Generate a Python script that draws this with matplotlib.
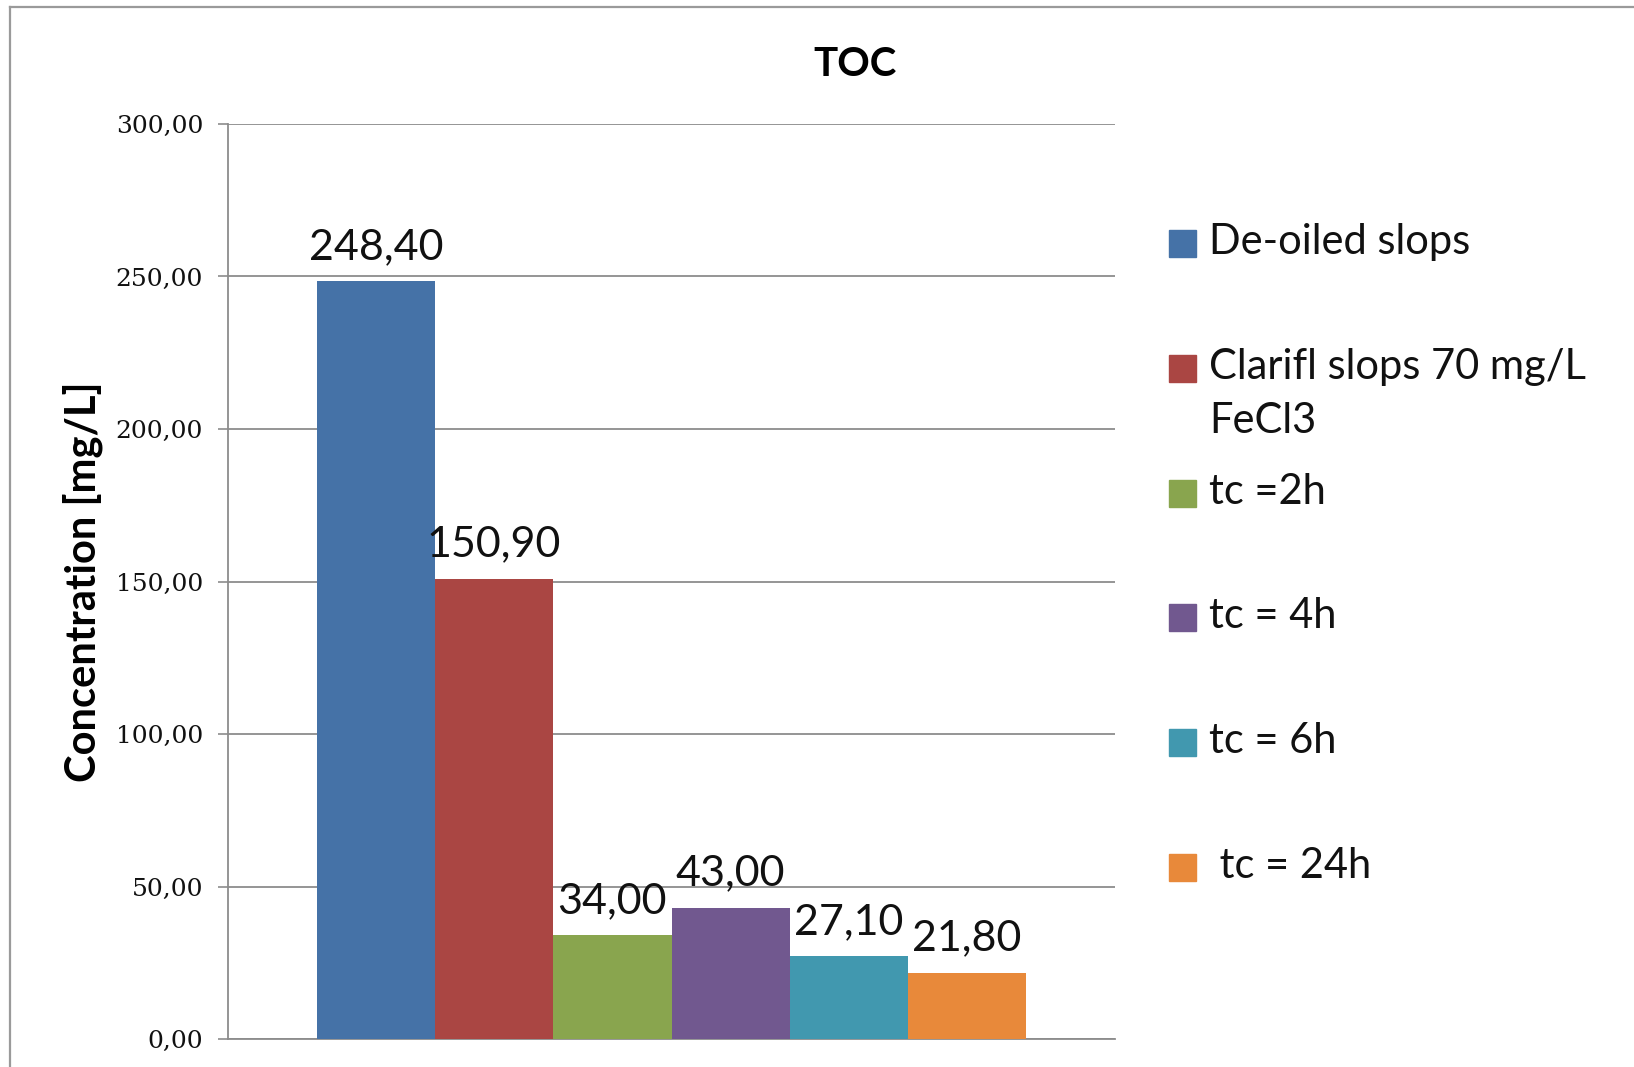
import matplotlib
matplotlib.use("Agg")
import matplotlib.pyplot as plt
from matplotlib.patches import Rectangle
from matplotlib.lines import Line2D

# данные
series = ["De-oiled slops", "Clarifl slops 70 mg/L\nFeCl3", "tc =2h",
          "tc = 4h", "tc = 6h", " tc = 24h"]
values = [248.40, 150.90, 34.00, 43.00, 27.10, 21.80]
colors = ["#4572A7", "#AA4643", "#89A54E", "#71588F", "#4198AF", "#E8893A"]
yticks = [0, 50, 100, 150, 200, 250, 300]

W, H = 1634, 1067
fig = plt.figure(figsize=(W / 100, H / 100), dpi=100)
fig.patch.set_facecolor("white")

# рамка диаграммы
fig.add_artist(Line2D([10 / W, 1], [1 - 7 / H, 1 - 7 / H], color="#9A9A9A", lw=1.6))
fig.add_artist(Line2D([10 / W, 10 / W], [0, 1 - 7 / H], color="#9A9A9A", lw=1.6))

ax = fig.add_axes([228 / W, 1 - 1039 / H, (1115 - 228) / W, (1039 - 124) / H])

x = list(range(len(values)))
bars = ax.bar(x, values, width=1.0, color=colors, zorder=3)

ax.set_xlim(-1.25, len(values) + 0.25)
ax.set_ylim(0, 300)
ax.set_yticks(yticks)
ax.set_yticklabels([f"{v:.2f}".replace(".", ",") for v in yticks],
                   family="DejaVu Serif", fontsize=18, color="#111111")
ax.set_xticks([])
ax.yaxis.grid(True, color="#8C8C8C", lw=1.3, zorder=0)
ax.tick_params(axis="y", length=7, width=1.2, color="#8C8C8C", pad=11)

for s in ["top", "right"]:
    ax.spines[s].set_visible(False)
ax.spines["left"].set_color("#8C8C8C")
ax.spines["bottom"].set_color("#8C8C8C")
ax.spines["left"].set_linewidth(1.3)
ax.spines["bottom"].set_linewidth(1.3)

# подписи значений
for b, v in zip(bars, values):
    ax.annotate(f"{v:.2f}".replace(".", ","), (b.get_x() + b.get_width() / 2, v),
                xytext=(0, 11), textcoords="offset points", ha="center", va="bottom",
                family="Lato", fontsize=31, color="#111111", zorder=4)

ax.set_ylabel("Concentration [mg/L]", family="Lato", fontweight="bold", fontsize=30)
ax.yaxis.set_label_coords(-0.141, 0.5)

fig.text(855 / W, 1 - 64 / H, "TOC", ha="center", va="center",
         family="Lato", fontweight="bold", fontsize=29)

# легенда
y0, step, lstep = 254, 124.8, 54
for i, (lab, c) in enumerate(zip(series, colors)):
    yb = y0 + i * step
    fig.add_artist(Rectangle((1169 / W, 1 - (yb + 3) / H), 27 / W, 27 / H,
                             color=c, transform=fig.transFigure))
    for k, line in enumerate(lab.split("\n")):
        fig.text(1209 / W, 1 - (yb + k * lstep) / H, line, ha="left", va="baseline",
                 family="Lato", fontsize=30, color="#111111")

fig.savefig("out.png", dpi=100)
